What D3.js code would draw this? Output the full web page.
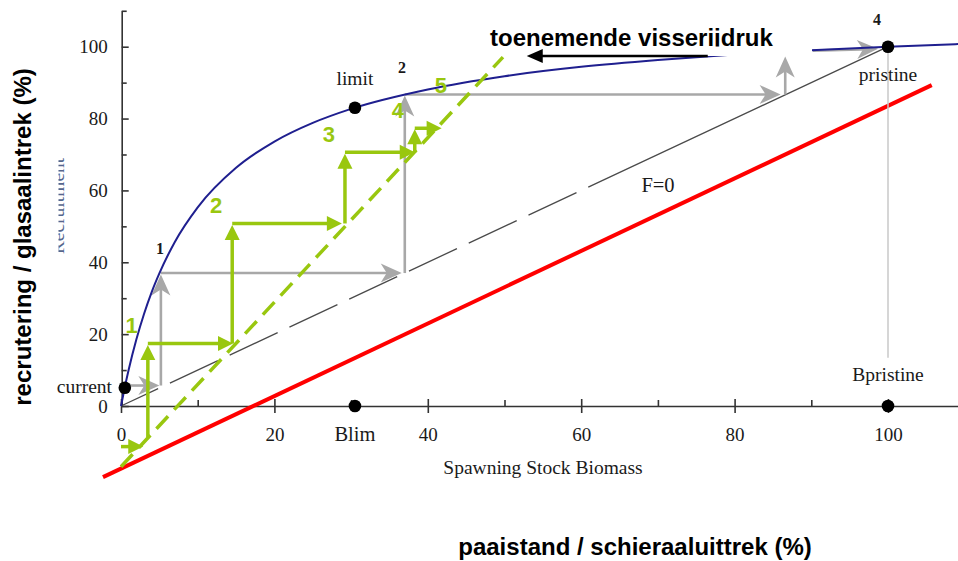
<!DOCTYPE html>
<html><head><meta charset="utf-8">
<script src="https://cdn.jsdelivr.net/npm/d3@7"></script>
<style>body{margin:0;background:#fff}svg{display:block}</style>
</head><body>
<svg id="c" width="958" height="561"></svg>
<script>
// ---- data (% units) ----
const ssb     = [0, 0.5, 1, 2, 3, 4, 5, 7, 10, 15, 20, 25, 30, 40, 50, 60, 70, 80, 90, 100, 110];
const recruit = [0, 5.3, 10.1, 18.5, 25.6, 31.7, 36.9, 45.6, 55.3, 66.3, 73.6, 78.8, 82.7, 88.1, 91.8, 94.4, 96.3, 97.8, 99.0, 100.0, 100.8];

const xMajor = [0, 20, 40, 60, 80, 100];
const xMinor = [10, 30, 50, 70, 90];
const yMajor = [0, 20, 40, 60, 80, 100];
const yMinor = [10, 30, 50, 70, 90, 110];

const replacementLine = [[0, 0], [100, 100]];          // F=0
const redLine         = [[-2.35, -19.8], [105.7, 89.3]];
const greenLine       = [[0, -16.9], [49.8, 97.1]];
const pressureArrow   = [76.5, 97.4, 52.9, 97.4];

// staircase arrows: x1, y1, x2, y2
const grayArrows = [
  [0.5, 5.7, 5.0, 5.7],
  [5.2, 5.7, 5.2, 36.6],
  [5.2, 37.0, 36.6, 37.0],
  [37.0, 37.0, 37.0, 86.4],
  [37.0, 86.7, 86.0, 86.7],
  [86.6, 86.7, 86.6, 97.3],
  [90.2, 98.9, 98.7, 99.4]
];
const greenArrows = [
  [0, -11.3, 2.9, -11.3],
  [3.5, -8.8, 3.5, 17.0],
  [3.5, 17.4, 14.6, 17.4],
  [14.5, 17.4, 14.5, 50.4],
  [14.5, 50.8, 28.8, 50.8],
  [29.2, 50.8, 29.2, 70.2],
  [29.2, 70.6, 38.3, 70.6],
  [38.3, 70.6, 38.3, 77.0],
  [38.3, 77.3, 41.8, 77.3]
];
const dots = [
  {x: 0.5, y: 5.1}, {x: 30.5, y: 83}, {x: 100, y: 100},
  {x: 30.5, y: 0}, {x: 100, y: 0}
];
const pristineDrop = [100, 100, 100, 13.4];

const greenLabels = [
  {t: "1", x: 1.4, y: 20.2}, {t: "2", x: 12.4, y: 53.7}, {t: "3", x: 27.1, y: 73.5},
  {t: "4", x: 36.1, y: 80.2}, {t: "5", x: 41.7, y: 87.1}
];

// ---- drawing ----
const svg = d3.select("#c");
const x = d3.scaleLinear().domain([0, 100]).range([121, 888]);
const y = d3.scaleLinear().domain([0, 100]).range([406, 46.7]);
const xa = x.copy().domain([0, 110]).range([x(0), x(110)]);
const ya = y.copy().domain([0, 110]).range([y(0), y(110)]);

const GREEN = "#99c70f", GRAY = "#a8a8a8", BLUE = "#1f1f8f";
const serif = "'Liberation Serif','DejaVu Serif',serif";
const sans = "'Liberation Sans',Arial,sans-serif";

// axes
const gx = svg.append("g").attr("transform", `translate(0,${y(0)})`)
  .call(d3.axisBottom(xa).tickValues(xMajor).tickSizeInner(7).tickSizeOuter(0).tickPadding(14.5).tickFormat(d3.format("d")));
gx.selectAll(".tick line").attr("y1", -7);
const gxm = svg.append("g").attr("transform", `translate(0,${y(0)})`)
  .call(d3.axisBottom(xa).tickValues(xMinor).tickSize(-6).tickFormat(""));
gxm.select(".domain").remove();

const gy = svg.append("g").attr("transform", `translate(${x(0) + 0.7},0)`)
  .call(d3.axisLeft(ya).tickValues(yMajor).tickSizeInner(7).tickSizeOuter(0).tickPadding(7).tickFormat(d3.format("d")));
gy.selectAll(".tick line").attr("x2", 7);
const gym = svg.append("g").attr("transform", `translate(${x(0) + 0.7},0)`)
  .call(d3.axisLeft(ya).tickValues(yMinor).tickSize(-5).tickFormat(""));
gym.select(".domain").remove();

svg.selectAll(".domain, .tick line").attr("stroke", "#333").attr("stroke-width", 1.6);
svg.selectAll(".tick text").attr("font-family", serif).attr("font-size", 19).attr("fill", "#1a1a1a");

const line = d3.line().x(d => x(d[0])).y(d => y(d[1]));

// red line
svg.append("path").attr("d", line(redLine)).attr("stroke", "#ff0000").attr("stroke-width", 4).attr("fill", "none");

// F=0 replacement line
svg.append("path").attr("d", line(replacementLine)).attr("stroke", "#4a4a4a").attr("stroke-width", 1.3)
  .attr("fill", "none").attr("stroke-dasharray", "41,13,53,13,53,13,53,13,53,13,53,13,53,13,53,13,2000");

// pristine drop line
svg.append("line").attr("x1", x(pristineDrop[0])).attr("y1", y(pristineDrop[1]))
  .attr("x2", x(pristineDrop[2])).attr("y2", y(pristineDrop[3]))
  .attr("stroke", "#c8c8c8").attr("stroke-width", 1.5);

function arrowGroup(data, color, width, headPath, shorten) {
  const g = svg.append("g");
  data.forEach(d => {
    const x1 = x(d[0]), y1 = y(d[1]), x2 = x(d[2]), y2 = y(d[3]);
    const ang = Math.atan2(y2 - y1, x2 - x1);
    g.append("line").attr("x1", x1).attr("y1", y1)
      .attr("x2", x2 - Math.cos(ang) * shorten).attr("y2", y2 - Math.sin(ang) * shorten)
      .attr("stroke", color).attr("stroke-width", width);
    g.append("path").attr("d", headPath)
      .attr("transform", `translate(${x2},${y2}) rotate(${ang * 180 / Math.PI})`)
      .attr("fill", color);
  });
  return g;
}

// gray staircase
arrowGroup(grayArrows, GRAY, 2.6, "M0,0 L-21,-9.5 L-15,0 L-21,9.5 Z", 8);

// stock-recruitment curve
svg.append("path").datum(ssb.map((s, i) => [s, recruit[i]]))
  .attr("d", line.curve(d3.curveMonotoneX)).attr("stroke", BLUE).attr("stroke-width", 2).attr("fill", "none");
line.curve(d3.curveLinear);

// green dashed line
svg.append("path").attr("d", line(greenLine)).attr("stroke", GREEN).attr("stroke-width", 3.5)
  .attr("fill", "none").attr("stroke-dasharray", "17,9");

// green staircase
arrowGroup(greenArrows, GREEN, 3.5, "M0,0 L-15,-7.5 L-15,7.5 Z", 8);

// dots
svg.selectAll("circle.pt").data(dots).join("circle").attr("class", "pt")
  .attr("cx", d => x(d.x)).attr("cy", d => y(d.y)).attr("r", 6.3).attr("fill", "#000");

// serif annotations
function label(t, px, py, size, anchor, weight) {
  svg.append("text").text(t).attr("x", px).attr("y", py).attr("font-family", serif)
    .attr("font-size", size).attr("text-anchor", anchor || "middle")
    .attr("font-weight", weight || "normal").attr("fill", "#1a1a1a");
}
label("current", 112, 393, 19.5, "end");
label("limit", x(30.5), 85, 19.5);
label("pristine", x(100), 81, 19.5);
label("Bpristine", x(100), 381, 19.5);
label("Blim", x(30.5), 441, 20.5);
label("F=0", 658, 192, 20.5);
label("Spawning Stock Biomass", 543, 474, 19.5);
label("1", 160, 254, 16, "middle", "bold");
label("2", 402, 73, 16, "middle", "bold");
label("4", 877, 25, 16, "middle", "bold");

// faint clipped axis title
const defs = svg.append("defs");
defs.append("clipPath").attr("id", "clipR").append("rect").attr("x", 58.5).attr("y", 100).attr("width", 20).attr("height", 200);
svg.append("g").attr("clip-path", "url(#clipR)").append("text").text("Recruitment")
  .attr("transform", "translate(64,206) rotate(-90)").attr("text-anchor", "middle")
  .attr("font-family", serif).attr("font-size", 19.5).attr("fill", "#56668c");

// green step numbers
svg.selectAll("text.gl").data(greenLabels).join("text").attr("class", "gl")
  .text(d => d.t).attr("x", d => x(d.x)).attr("y", d => y(d.y))
  .attr("text-anchor", "middle").attr("font-family", sans).attr("font-weight", "bold")
  .attr("font-size", 22).attr("fill", GREEN);

// white box behind the pressure label
svg.append("rect").attr("x", 470).attr("y", 0).attr("width", 342).attr("height", 56).attr("fill", "#fff");

defs.append("clipPath").attr("id", "clipT").append("rect").attr("x", 400).attr("y", 0).attr("width", 500).attr("height", 46.5);
svg.append("g").attr("clip-path", "url(#clipT)").append("text").text("toenemende visserijdruk")
  .attr("x", 490).attr("y", 46).attr("font-family", sans).attr("font-weight", "bold").attr("font-size", 24).attr("fill", "#000");

// pressure arrow
{
  const x1 = x(pressureArrow[0]), y1 = y(pressureArrow[1]), x2 = x(pressureArrow[2]), y2 = y(pressureArrow[3]);
  svg.append("line").attr("x1", x1).attr("y1", y1).attr("x2", x2 + 8).attr("y2", y2).attr("stroke", "#000").attr("stroke-width", 2.6);
  svg.append("path").attr("d", "M0,0 L-16,-7 L-16,7 Z").attr("transform", `translate(${x2},${y2}) rotate(180)`).attr("fill", "#000");
}

// bold axis titles
svg.append("text").text("paaistand / schieraaluittrek (%)").attr("x", 635).attr("y", 555)
  .attr("text-anchor", "middle").attr("font-family", sans).attr("font-weight", "bold").attr("font-size", 24).attr("fill", "#000");
svg.append("text").text("recrutering / glasaalintrek (%)").attr("transform", "translate(31,237) rotate(-90)")
  .attr("text-anchor", "middle").attr("font-family", sans).attr("font-weight", "bold").attr("font-size", 24).attr("fill", "#000");
</script>
</body></html>
